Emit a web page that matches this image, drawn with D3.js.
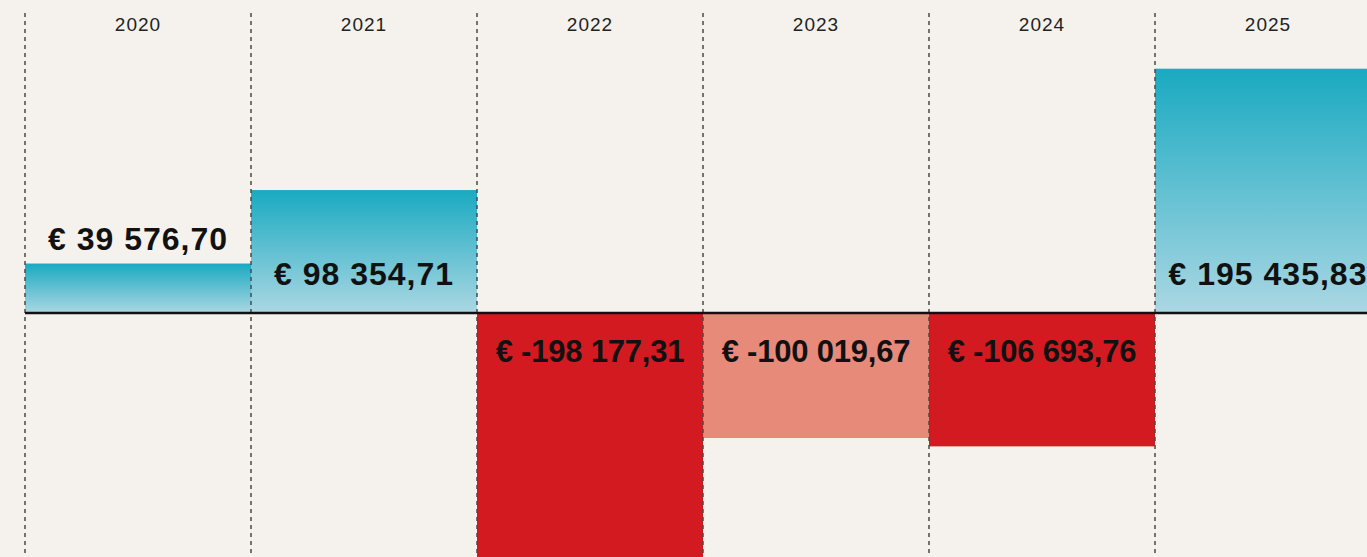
<!DOCTYPE html>
<html>
<head>
<meta charset="utf-8">
<script src="https://cdn.jsdelivr.net/npm/d3@7"></script>
<style>
  html, body { margin: 0; padding: 0; background: #f5f2ed; overflow: hidden; }
  svg { display: block; }
</style>
</head>
<body>
<svg id="chart"></svg>
<script>
// data
const years = ['2020', '2021', '2022', '2023', '2024', '2025'];
const values = [39576.70, 98354.71, -198177.31, -100019.67, -106693.76, 195435.83];
const labels = ['€ 39 576,70', '€ 98 354,71', '€ -198 177,31', '€ -100 019,67', '€ -106 693,76', '€ 195 435,83'];
const negColors = ['#d41a21', '#d41a21', '#d41a21', '#e88a79', '#d41a21', '#d41a21'];

const width = 1367, height = 557;
const svg = d3.select('#chart').attr('width', width).attr('height', height);

const x = d3.scaleBand().domain(years).range([25, 25 + 226 * years.length]).padding(0);
const y = d3.scaleLinear().domain([-200000, 200000]).range([563, 63]);

const defs = svg.append('defs');
const grad = defs.append('linearGradient')
  .attr('id', 'pos').attr('x1', 0).attr('y1', 0).attr('x2', 0).attr('y2', 1);
grad.append('stop').attr('offset', '0%').attr('stop-color', '#19aac1');
grad.append('stop').attr('offset', '100%').attr('stop-color', '#abd7e3');

const data = years.map((yr, i) => ({ year: yr, value: values[i], label: labels[i], neg: negColors[i] }));

// bars
svg.selectAll('.bar')
  .data(data)
  .enter()
  .append('rect')
  .attr('class', 'bar')
  .attr('x', (d) => x(d.year))
  .attr('width', x.bandwidth())
  .attr('y', (d) => y(Math.max(0, d.value)))
  .attr('height', (d) => Math.abs(y(d.value) - y(0)))
  .attr('fill', (d) => d.value >= 0 ? 'url(#pos)' : d.neg);

// dashed column lines
svg.selectAll('.grid')
  .data(years)
  .enter()
  .append('line')
  .attr('x1', (d) => x(d)).attr('x2', (d) => x(d))
  .attr('y1', 13).attr('y2', height)
  .attr('stroke', '#4a4a4a')
  .attr('stroke-width', 1.5)
  .attr('stroke-dasharray', '4,4');

// zero line
svg.append('line')
  .attr('x1', x(years[0])).attr('x2', width)
  .attr('y1', y(0)).attr('y2', y(0))
  .attr('stroke', '#111')
  .attr('stroke-width', 2.5);

// year labels
svg.selectAll('.year')
  .data(years)
  .enter()
  .append('text')
  .attr('x', (d) => x(d) + x.bandwidth() / 2)
  .attr('y', 31)
  .attr('text-anchor', 'middle')
  .attr('font-family', 'Liberation Sans, Arial, sans-serif')
  .attr('font-size', 19)
  .attr('letter-spacing', 1)
  .attr('fill', '#222')
  .text((d) => d);

// value labels
svg.selectAll('.val')
  .data(data)
  .enter()
  .append('text')
  .attr('x', (d) => x(d.year) + x.bandwidth() / 2)
  .attr('y', (d) => {
    if (d.value < 0) return y(0) + 49;
    const h = y(0) - y(d.value);
    return h < 60 ? y(d.value) - 14 : y(0) - 28;
  })
  .attr('text-anchor', 'middle')
  .attr('font-family', 'Liberation Sans, Arial, sans-serif')
  .attr('font-weight', 'bold')
  .attr('font-size', (d) => d.value < 0 ? 31 : 32)
  .attr('letter-spacing', (d) => d.value < 0 ? -0.2 : 1)
  .attr('fill', '#111')
  .text((d) => d.label);
</script>
</body>
</html>
